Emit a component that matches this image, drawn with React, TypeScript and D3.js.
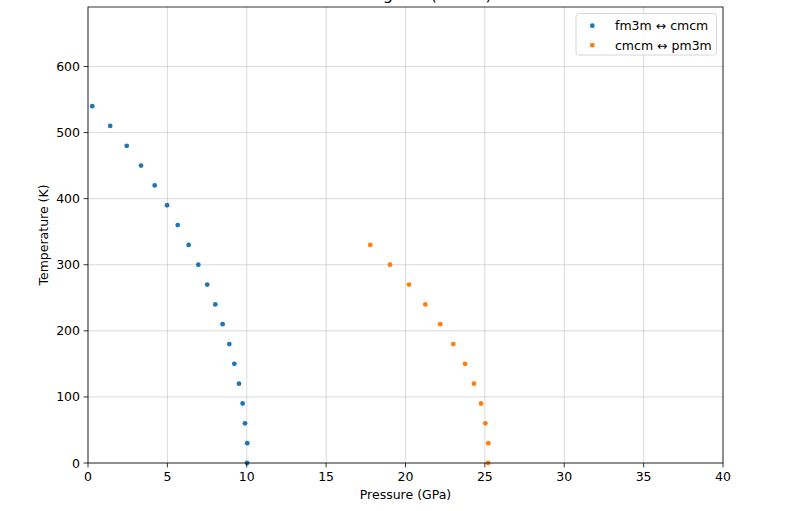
import React from "react";
import * as d3 from "d3";

const W = 812;
const H = 511;

const blueT = [540, 510, 480, 450, 420, 390, 360, 330, 300, 270, 240, 210, 180, 150, 120, 90, 60, 30, 0];
const blueP = [0.27, 1.4, 2.44, 3.34, 4.2, 4.98, 5.65, 6.34, 6.95, 7.51, 8.02, 8.48, 8.9, 9.22, 9.51, 9.74, 9.89, 10.03, 10.02];
const orangeT = [330, 300, 270, 240, 210, 180, 150, 120, 90, 60, 30, 0];
const orangeP = [17.78, 19.02, 20.22, 21.25, 22.19, 23.01, 23.75, 24.31, 24.76, 25.03, 25.22, 25.2];
const xTicks = [0, 5, 10, 15, 20, 25, 30, 35, 40];
const yTicks = [0, 100, 200, 300, 400, 500, 600];
const seriesNames = ["fm3m \u2194 cmcm", "cmcm \u2194 pm3m"];
const colors = ["#1f77b4", "#ff7f0e"];
const title = "Phase Diagram (Model)";

export default function App() {
  const left = 88, right = 723, top = 7, bottom = 463;
  const x = d3.scaleLinear().domain([0, 40]).range([left, right]);
  const y = d3.scaleLinear().domain([0, 690]).range([bottom, top]);
  const font = "DejaVu Sans, sans-serif";
  const fs = 12.5;
  const series = [
    { P: blueP, T: blueT, c: colors[0] },
    { P: orangeP, T: orangeT, c: colors[1] },
  ];
  return (
    <svg width={W} height={H} style={{ position: "absolute", left: 0, top: 0, background: "#fff" }} fontFamily={font}>
      <rect x={0} y={0} width={W} height={H} fill="#fff" />
      <text x={302.4} y={-0.5} fontSize={16.2} textAnchor="start" fill="#000">{title}</text>
      {xTicks.map((t) => (
        <line key={"gx" + t} x1={x(t)} x2={x(t)} y1={top} y2={bottom} stroke="#b0b0b0" strokeOpacity={0.6} strokeWidth={0.8} />
      ))}
      {yTicks.map((t) => (
        <line key={"gy" + t} x1={left} x2={right} y1={y(t)} y2={y(t)} stroke="#b0b0b0" strokeOpacity={0.6} strokeWidth={0.8} />
      ))}
      {series.map((s, si) =>
        s.P.map((p, i) => (
          <circle key={si + "-" + i} cx={x(p)} cy={y(s.T[i])} r={2.4} fill={s.c} />
        ))
      )}
      <rect x={left} y={top} width={right - left} height={bottom - top} fill="none" stroke="#000" strokeWidth={0.8} />
      {xTicks.map((t) => (
        <g key={"tx" + t}>
          <line x1={x(t)} x2={x(t)} y1={bottom} y2={bottom + 4.4} stroke="#000" strokeWidth={0.8} />
          <text x={x(t)} y={bottom + 18} fontSize={fs} textAnchor="middle" fill="#000">{t}</text>
        </g>
      ))}
      {yTicks.map((t) => (
        <g key={"ty" + t}>
          <line x1={left - 4.4} x2={left} y1={y(t)} y2={y(t)} stroke="#000" strokeWidth={0.8} />
          <text x={left - 8} y={y(t)} dy="0.36em" fontSize={fs} textAnchor="end" fill="#000">{t}</text>
        </g>
      ))}
      <text x={(left + right) / 2} y={499} fontSize={fs} textAnchor="middle" fill="#000">Pressure (GPa)</text>
      <text transform={`translate(48,${(top + bottom) / 2}) rotate(-90)`} fontSize={fs} textAnchor="middle" fill="#000">Temperature (K)</text>
      <g>
        <rect x={576} y={13.5} width={140.5} height={41.5} rx={3} fill="#fff" fillOpacity={0.8} stroke="#cccccc" strokeWidth={0.8} />
        {seriesNames.map((n, i) => (
          <g key={n}>
            <circle cx={592.3} cy={25.7 + i * 19.5} r={2.4} fill={colors[i]} />
            <text x={615} y={25.7 + i * 19.5} dy="0.36em" fontSize={fs} fill="#000">{n}</text>
          </g>
        ))}
      </g>
    </svg>
  );
}
